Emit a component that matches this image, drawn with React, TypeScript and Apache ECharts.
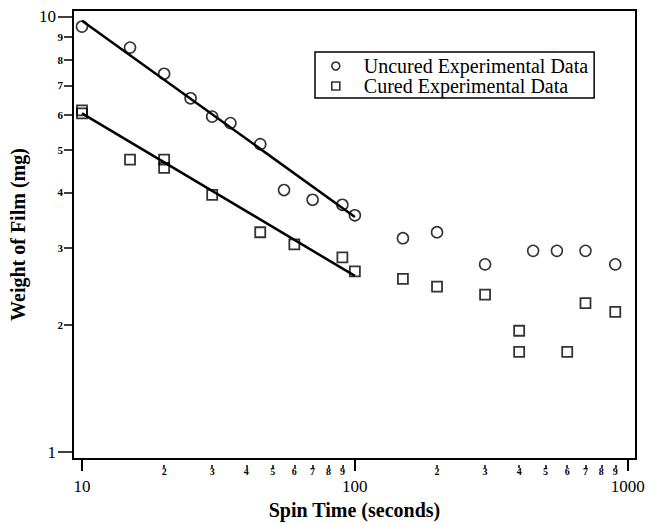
import React, { useEffect, useRef } from "react";
import * as echarts from "echarts";

// ---- data ----
const uncuredTime = [10, 15, 20, 25, 30, 35, 45, 55, 70, 90, 100, 150, 200, 300, 450, 550, 700, 900];
const uncuredWeight = [9.5, 8.5, 7.4, 6.5, 5.9, 5.7, 5.1, 4.0, 3.8, 3.7, 3.5, 3.1, 3.2, 2.7, 2.9, 2.9, 2.9, 2.7];
const curedTime = [10, 10, 15, 20, 20, 30, 45, 60, 90, 100, 150, 200, 300, 400, 400, 600, 700, 900];
const curedWeight = [6.1, 6.0, 4.7, 4.7, 4.5, 3.9, 3.2, 3.0, 2.8, 2.6, 2.5, 2.4, 2.3, 1.9, 1.7, 1.7, 2.2, 2.1];
const uncuredFitTime = [10, 100];
const uncuredFitWeight = [9.8, 3.47];
const curedFitTime = [10, 100];
const curedFitWeight = [6.0, 2.54];

const xMajorTicks = [10, 100, 1000];
const xMinorTicks = [20, 30, 40, 50, 60, 70, 80, 90, 200, 300, 400, 500, 600, 700, 800, 900];
const yMajorTicks = [1, 10];
const yMinorTicks = [2, 3, 4, 5, 6, 7, 8, 9];

const seriesNames = ["Uncured Experimental Data", "Cured Experimental Data"];
const xTitle = "Spin Time (seconds)";
const yTitle = "Weight of Film (mg)";

const X_MIN = 9.27;
const X_MAX = 1072;
const Y_MIN = 0.964;
const Y_MAX = 10.37;

const FONT = "'Liberation Serif', 'Times New Roman', serif";

const zip = (a: number[], b: number[]) => a.map((v, i) => [v, b[i]]);
const digit = (v: number) => String(Math.round(v / Math.pow(10, Math.floor(Math.log10(v) + 1e-9))));

export default function App() {
  const ref = useRef<HTMLDivElement>(null);
  useEffect(() => {
    if (!ref.current) return;
    const chart = echarts.init(ref.current, undefined, { renderer: "svg" });
    const gridBox = { left: 73, right: 23, top: 10, bottom: 60 };
    const axisLineStyle = { color: "#000", width: 2 };
    chart.setOption({
      animation: false,
      backgroundColor: "#fff",
      grid: [
        { ...gridBox, show: true, borderColor: "#000", borderWidth: 2, backgroundColor: "transparent" },
        { ...gridBox, show: false },
      ],
      legend: {
        left: 315,
        top: 52,
        orient: "vertical",
        borderColor: "#000",
        borderWidth: 1.5,
        borderRadius: 0,
        padding: [4, 6, 2, 16],
        itemGap: 0,
        itemWidth: 8,
        itemHeight: 8,
        textStyle: { fontFamily: FONT, fontSize: 20, color: "#000", lineHeight: 20, padding: [0, 0, 0, 19] },
        data: [
          { name: seriesNames[0], icon: "circle", itemStyle: { color: "transparent", borderColor: "#000", borderWidth: 1.6 } },
          { name: seriesNames[1], icon: "rect", itemStyle: { color: "transparent", borderColor: "#000", borderWidth: 1.6 } },
        ],
      },
      xAxis: [
        {
          type: "log",
          gridIndex: 0,
          min: X_MIN,
          max: X_MAX,
          position: "bottom",
          axisLine: { show: true, lineStyle: axisLineStyle },
          axisTick: { show: true, customValues: xMajorTicks, length: 12, inside: false, lineStyle: { width: 2, color: "#000" } },
          axisLabel: { customValues: xMajorTicks, margin: 19, fontFamily: FONT, fontSize: 17, color: "#000", formatter: (v: number) => String(Math.round(v)) },
          splitLine: { show: false },
          minorTick: { show: false },
          name: xTitle,
          nameLocation: "middle",
          nameGap: 41,
          nameTextStyle: { fontFamily: FONT, fontSize: 20, fontWeight: "bold", color: "#000" },
        },
        {
          type: "log",
          gridIndex: 1,
          min: X_MIN,
          max: X_MAX,
          position: "bottom",
          axisLine: { show: false },
          axisTick: { show: true, customValues: xMinorTicks, length: 3, lineStyle: { width: 1.5, color: "#000" } },
          axisLabel: { customValues: xMinorTicks, margin: 1, fontFamily: FONT, fontSize: 10, fontWeight: "bold", color: "#000", formatter: (v: number) => digit(v) },
          splitLine: { show: false },
        },
      ],
      yAxis: [
        {
          type: "log",
          gridIndex: 0,
          min: Y_MIN,
          max: Y_MAX,
          position: "left",
          axisLine: { show: true, lineStyle: axisLineStyle },
          axisTick: { show: true, customValues: yMajorTicks, length: 15, lineStyle: { width: 1.5, color: "#000" } },
          axisLabel: { customValues: yMajorTicks, margin: 17, fontFamily: FONT, fontSize: 17, color: "#000", formatter: (v: number) => String(Math.round(v)) },
          splitLine: { show: false },
          name: yTitle,
          nameLocation: "middle",
          nameGap: 33,
          nameRotate: 90,
          nameTextStyle: { fontFamily: FONT, fontSize: 20, fontWeight: "bold", color: "#000" },
        },
        {
          type: "log",
          gridIndex: 1,
          min: Y_MIN,
          max: Y_MAX,
          position: "left",
          axisLine: { show: false },
          axisTick: { show: true, customValues: yMinorTicks, length: 9, lineStyle: { width: 1.5, color: "#000" } },
          axisLabel: { customValues: yMinorTicks, margin: 10, fontFamily: FONT, fontSize: 11, fontWeight: "bold", color: "#000", formatter: (v: number) => digit(v) },
          splitLine: { show: false },
        },
      ],
      series: [
        {
          name: "Uncured fit",
          type: "line",
          xAxisIndex: 0,
          yAxisIndex: 0,
          data: zip(uncuredFitTime, uncuredFitWeight),
          showSymbol: false,
          symbol: "none",
          lineStyle: { color: "#000", width: 2.5 },
          z: 1,
        },
        {
          name: "Cured fit",
          type: "line",
          xAxisIndex: 0,
          yAxisIndex: 0,
          data: zip(curedFitTime, curedFitWeight),
          showSymbol: false,
          symbol: "none",
          lineStyle: { color: "#000", width: 2.5 },
          z: 1,
        },
        {
          name: seriesNames[0],
          type: "scatter",
          xAxisIndex: 0,
          yAxisIndex: 0,
          data: zip(uncuredTime, uncuredWeight),
          symbol: "circle",
          symbolSize: 11,
          itemStyle: { color: "transparent", borderColor: "#000", borderWidth: 1.6 },
          z: 3,
        },
        {
          name: seriesNames[1],
          type: "scatter",
          xAxisIndex: 0,
          yAxisIndex: 0,
          data: zip(curedTime, curedWeight),
          symbol: "rect",
          symbolSize: 10,
          itemStyle: { color: "transparent", borderColor: "#000", borderWidth: 1.8 },
          z: 3,
        },
      ],
    });
    return () => chart.dispose();
  }, []);
  return (
    <div
      ref={ref}
      style={{ position: "absolute", left: 0, top: 0, width: 659, height: 525, background: "#fff" }}
    />
  );
}
